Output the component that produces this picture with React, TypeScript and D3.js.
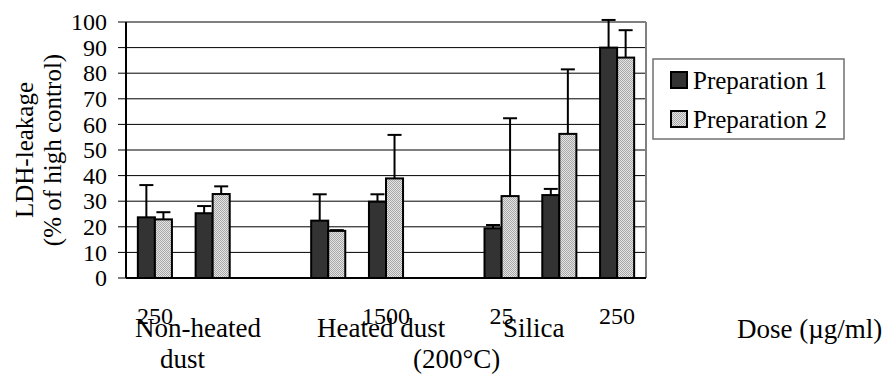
import * as d3 from 'd3';

// slot labels (Excel shows every other one)
const doseLabels = ['250', '', '', '', '1500', '', '25', '', '250'];
const series = ['Preparation 1', 'Preparation 2'];

const prep1 = [23.7, 25.3, null, 22.4, 29.8, null, 19.4, 32.4, 90.0];
const prep1Err = [12.6, 2.8, null, 10.3, 2.9, null, 1.3, 2.4, 10.8];
const prep2 = [22.9, 32.8, null, 18.4, 38.9, null, 32.0, 56.3, 86.1];
const prep2Err = [2.8, 3.0, null, 0.3, 17.0, null, 30.4, 25.2, 10.7];

const yTicks = [0, 10, 20, 30, 40, 50, 60, 70, 80, 90, 100];

const W = 883;
const H = 375;
const FONT = 'Liberation Serif';

export default function App() {
  const left = 126;
  const right = 646;
  const top = 22;
  const bottom = 278;

  const slots = doseLabels.map((_, i) => i);
  const x = d3.scaleBand<number>()
    .domain(slots)
    .range([left, right])
    .paddingInner(0.41)
    .paddingOuter(0.205);
  const xs = d3.scaleBand<number>().domain([0, 1]).range([0, x.bandwidth()]);
  const y = d3.scaleLinear().domain([0, 100]).range([bottom, top]);

  const values = [prep1, prep2];
  const errs = [prep1Err, prep2Err];
  const fills = ['#333333', 'url(#dots)'];
  const capW = 14;
  const tf = { fontFamily: FONT };

  return (
    <svg width={W} height={H} style={{ position: 'absolute', left: 0, top: 0, background: '#fff' }}>
      <defs>
        <pattern id="dots" width={2} height={2} patternUnits="userSpaceOnUse">
          <rect width={2} height={2} fill="#e4e4e4" />
          <rect width={1} height={1} fill="#a8a8a8" />
          <rect x={1} y={1} width={1} height={1} fill="#a8a8a8" />
        </pattern>
      </defs>

      {/* gridlines */}
      {yTicks.filter((t) => t > 0 && t < 100).map((t) => (
        <line key={t} x1={left} x2={right} y1={y(t)} y2={y(t)} stroke="#000" strokeWidth={1} />
      ))}
      {/* plot border top/right */}
      <line x1={left} x2={right} y1={y(100)} y2={y(100)} stroke="#808080" strokeWidth={2} />
      <line x1={right} x2={right} y1={y(100)} y2={y(0)} stroke="#808080" strokeWidth={2} />

      {/* bars */}
      {values.map((vals, s) =>
        vals.map((v, i) => {
          if (v == null) return null;
          const bx = (x(i) ?? 0) + (xs(s) ?? 0);
          const bw = xs.bandwidth();
          return (
            <rect key={`b${s}-${i}`} x={bx} y={y(v)} width={bw} height={y(0) - y(v)}
              fill={fills[s]} stroke="#000" strokeWidth={2} />
          );
        })
      )}

      {/* error bars */}
      {values.map((vals, s) =>
        vals.map((v, i) => {
          const e = errs[s][i];
          if (v == null || e == null) return null;
          const cx = (x(i) ?? 0) + (xs(s) ?? 0) + xs.bandwidth() / 2;
          return (
            <g key={`e${s}-${i}`} stroke="#000" strokeWidth={2}>
              <line x1={cx} x2={cx} y1={y(v)} y2={y(v + e)} />
              <line x1={cx - capW / 2} x2={cx + capW / 2} y1={y(v + e)} y2={y(v + e)} />
            </g>
          );
        })
      )}

      {/* axes */}
      <line x1={left} x2={right} y1={y(0)} y2={y(0)} stroke="#000" strokeWidth={2} />
      <line x1={left} x2={left} y1={y(100)} y2={y(0)} stroke="#000" strokeWidth={2} />
      {yTicks.map((t) => (
        <g key={`t${t}`}>
          <line x1={left - 8} x2={left} y1={y(t)} y2={y(t)} stroke="#000" strokeWidth={1} />
          <text x={107} y={y(t)} dy="0.34em" textAnchor="end" fontSize={24} style={tf}>{t}</text>
        </g>
      ))}

      {/* dose tick labels */}
      {doseLabels.map((d, i) => d && (
        <text key={`d${i}`} x={(x(i) ?? 0) + x.bandwidth() / 2} y={324} textAnchor="middle"
          fontSize={24} style={tf}>{d}</text>
      ))}

      {/* category labels */}
      <text x={135} y={337} fontSize={27} style={tf}>Non-heated</text>
      <text x={160} y={368} fontSize={27} style={tf}>dust</text>
      <text x={317} y={337} fontSize={27} style={tf}>Heated dust</text>
      <text x={413} y={368} fontSize={27} style={tf}>(200°C)</text>
      <text x={503} y={337} fontSize={27} style={tf}>Silica</text>
      <text x={737} y={338} fontSize={27} style={tf}>Dose (µg/ml)</text>

      {/* y title */}
      <g transform="translate(24,150) rotate(-90)">
        <text x={0} y={0} dy="0.35em" textAnchor="middle" fontSize={25} style={tf}>LDH-leakage</text>
        <text x={0} y={28} dy="0.35em" textAnchor="middle" fontSize={25} style={tf}>(% of high control)</text>
      </g>

      {/* legend */}
      <rect x={653} y={59} width={191} height={80} fill="#fff" stroke="#707070" strokeWidth={1.5} />
      {series.map((name, s) => (
        <g key={name} transform={`translate(671,${72 + s * 39})`}>
          <rect x={0} y={0} width={16} height={16} fill={fills[s]} stroke="#000" strokeWidth={2} />
          <text x={22} y={8} dy="0.35em" fontSize={25} style={tf}>{name}</text>
        </g>
      ))}
    </svg>
  );
}
